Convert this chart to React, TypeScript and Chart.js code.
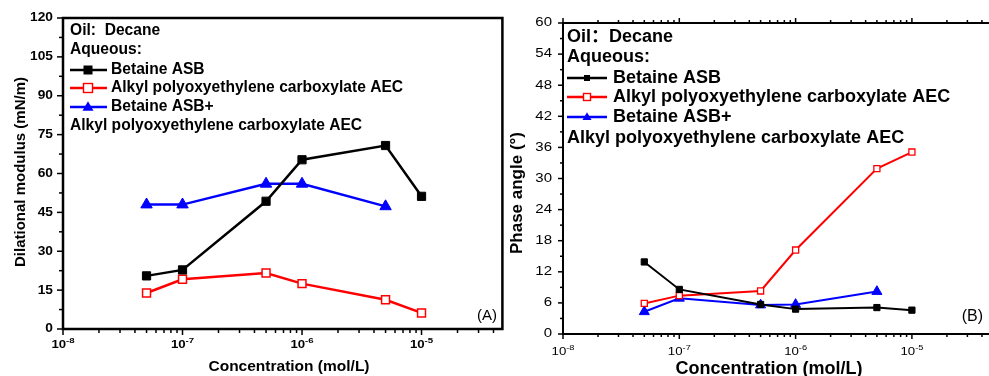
import React, { useEffect, useRef } from 'react';
import { Chart, registerables } from 'chart.js';

Chart.register(...registerables);

// ---------- data ----------
const concentration = [5e-8, 1e-7, 5e-7, 1e-6, 5e-6, 1e-5];
const concentrationMix = [5e-8, 1e-7, 5e-7, 1e-6, 5e-6];

const modulusASB = [20.5, 22.8, 49.3, 65.3, 70.8, 51.2];
const modulusAEC = [13.9, 19.2, 21.6, 17.5, 11.3, 6.2];
const modulusMix = [48.0, 48.0, 56.0, 56.0, 47.3];

const phaseASB = [13.9, 8.6, 5.7, 4.8, 5.1, 4.6];
const phaseAEC = [5.9, 7.4, 8.3, 16.2, 31.9, 35.1];
const phaseMix = [4.3, 6.9, 5.6, 5.7, 8.2];

const modulusTicks = [0, 15, 30, 45, 60, 75, 90, 105, 120];
const phaseTicks = [0, 6, 12, 18, 24, 30, 36, 42, 48, 54, 60];
const decadeExponents = [-8, -7, -6, -5];

const seriesNames = ['Betaine ASB', 'Alkyl polyoxyethylene carboxylate AEC', 'Betaine ASB+'];
const mixSecondLine = 'Alkyl polyoxyethylene carboxylate AEC';
const seriesColors = ['#000000', '#ff0000', '#0000ff'];

const FONT = '"Liberation Sans", Arial, "Noto Sans CJK SC", sans-serif';

type Pad = { left: number; right: number; top: number; bottom: number };

interface PanelCfg {
  canvasLeft: number;
  canvasWidth: number;
  pad: Pad;
  xMin: number;
  xMax: number;
  yMax: number;
  yTicks: number[];
  ys: number[][];
  lineWidth: number;
  axisWidth: number;
  pointR: number[];
  pointBW: number[];
  rightBorder: boolean;
  topTicks: boolean;
  majorLen: number;
  minorLen: number;
  yTickFont: string;
  yTickSx: number;
  yTickRight: number;
  xTickFont: string;
  xExpFont: string;
  xTickY: number;
  xExpDy: number;
  xTickSx: number;
  yTitle: string;
  yTitleFont: string;
  yTitleX: number;
  yTitleY: number;
  xTitle: string;
  xTitleFont: string;
  xTitleX: number;
  xTitleY: number;
  legendFont: string;
  legendX: number;
  legendSampleEnd: number;
  legendMarkerX: number;
  legendTextX: number;
  legendRows: number[];
  legendMarker: number[];
  legendLineWidth: number;
  oilText: string;
  panelLabel: string;
  panelLabelFont: string;
  panelLabelRight: number;
  panelLabelY: number;
}

function drawText(
  ctx: CanvasRenderingContext2D,
  s: string,
  x: number,
  y: number,
  font: string,
  align: 'left' | 'right' | 'center',
  sx = 1
) {
  ctx.save();
  ctx.font = font;
  ctx.fillStyle = '#000';
  ctx.textBaseline = 'middle';
  ctx.textAlign = 'left';
  const w = ctx.measureText(s).width * sx;
  const x0 = align === 'left' ? x : align === 'right' ? x - w : x - w / 2;
  ctx.translate(x0, y);
  ctx.scale(sx, 1);
  ctx.fillText(s, 0, 0);
  ctx.restore();
  return w;
}

function drawMarker(ctx: CanvasRenderingContext2D, kind: number, x: number, y: number, size: number) {
  ctx.save();
  if (kind === 0) {
    ctx.fillStyle = '#000';
    ctx.fillRect(x - size / 2, y - size / 2, size, size);
  } else if (kind === 1) {
    ctx.fillStyle = '#fff';
    ctx.strokeStyle = '#ff0000';
    ctx.lineWidth = 1.4;
    ctx.fillRect(x - size / 2, y - size / 2, size, size);
    ctx.strokeRect(x - size / 2, y - size / 2, size, size);
  } else {
    ctx.fillStyle = '#0000ff';
    const h = size * 0.866;
    ctx.beginPath();
    ctx.moveTo(x, y - h * 0.6);
    ctx.lineTo(x + size / 2, y + h * 0.4);
    ctx.lineTo(x - size / 2, y + h * 0.4);
    ctx.closePath();
    ctx.fill();
  }
  ctx.restore();
}

function drawPanel(chart: any, p: PanelCfg) {
  const ctx: CanvasRenderingContext2D = chart.ctx;
  const { left, right, top, bottom } = chart.chartArea;
  const xs = chart.scales.x;
  const ys = chart.scales.y;
  ctx.save();
  ctx.strokeStyle = '#000';
  ctx.lineWidth = p.axisWidth;
  ctx.lineCap = 'square';
  // frame
  ctx.beginPath();
  ctx.moveTo(left, top);
  ctx.lineTo(left, bottom);
  ctx.lineTo(right, bottom);
  if (p.rightBorder) ctx.lineTo(right, top);
  ctx.moveTo(left, top);
  ctx.lineTo(right, top);
  ctx.stroke();

  // y ticks
  ctx.lineWidth = 1.5;
  ctx.lineCap = 'butt';
  const step = p.yTicks[1] - p.yTicks[0];
  p.yTicks.forEach((v) => {
    const py = ys.getPixelForValue(v);
    ctx.beginPath();
    ctx.moveTo(left, py);
    ctx.lineTo(left - p.majorLen, py);
    ctx.stroke();
    if (v + step / 2 <= p.yMax) {
      const pm = ys.getPixelForValue(v + step / 2);
      ctx.beginPath();
      ctx.moveTo(left, pm);
      ctx.lineTo(left - p.minorLen, pm);
      ctx.stroke();
    }
    drawText(ctx, String(v), p.yTickRight, py, p.yTickFont, 'right', p.yTickSx);
  });

  // x ticks (log)
  for (let d = -8; d <= -4; d++) {
    for (let m = 1; m <= 9; m++) {
      const v = m * Math.pow(10, d);
      if (v < p.xMin * 0.999 || v > p.xMax * 1.001) continue;
      const px = xs.getPixelForValue(v);
      const len = m === 1 ? p.majorLen : p.minorLen;
      ctx.beginPath();
      ctx.moveTo(px, bottom);
      ctx.lineTo(px, bottom + len);
      ctx.stroke();
      if (p.topTicks) {
        ctx.beginPath();
        ctx.moveTo(px, top);
        ctx.lineTo(px, top - len);
        ctx.stroke();
      }
    }
  }
  decadeExponents.forEach((e) => {
    const px = xs.getPixelForValue(Math.pow(10, e));
    ctx.save();
    ctx.font = p.xTickFont;
    const wb = ctx.measureText('10').width * p.xTickSx;
    ctx.font = p.xExpFont;
    const we = ctx.measureText(String(e)).width * p.xTickSx;
    ctx.restore();
    const x0 = px - (wb + we) / 2;
    drawText(ctx, '10', x0, p.xTickY, p.xTickFont, 'left', p.xTickSx);
    drawText(ctx, String(e), x0 + wb, p.xTickY + p.xExpDy, p.xExpFont, 'left', p.xTickSx);
  });

  // titles
  ctx.save();
  ctx.translate(p.yTitleX, p.yTitleY);
  ctx.rotate(-Math.PI / 2);
  drawText(ctx, p.yTitle, 0, 0, p.yTitleFont, 'center');
  ctx.restore();
  drawText(ctx, p.xTitle, p.xTitleX, p.xTitleY, p.xTitleFont, 'center');

  // legend block
  const r = p.legendRows;
  drawText(ctx, p.oilText, p.legendX, r[0], p.legendFont, 'left');
  drawText(ctx, 'Aqueous:', p.legendX, r[1], p.legendFont, 'left');
  for (let i = 0; i < 3; i++) {
    const y = r[2 + i];
    ctx.strokeStyle = seriesColors[i];
    ctx.lineWidth = p.legendLineWidth;
    ctx.beginPath();
    ctx.moveTo(p.legendX, y);
    ctx.lineTo(p.legendSampleEnd, y);
    ctx.stroke();
    drawMarker(ctx, i, p.legendMarkerX, y, p.legendMarker[i]);
    drawText(ctx, seriesNames[i], p.legendTextX, y, p.legendFont, 'left');
  }
  drawText(ctx, mixSecondLine, p.legendX, r[5], p.legendFont, 'left');

  drawText(ctx, p.panelLabel, p.panelLabelRight, p.panelLabelY, p.panelLabelFont, 'right');
  ctx.restore();
}

function PanelChart({ cfg }: { cfg: PanelCfg }) {
  const ref = useRef<HTMLCanvasElement | null>(null);
  useEffect(() => {
    if (!ref.current) return;
    const xsets = [concentration, concentration, concentrationMix];
    const styles = ['rect', 'rect', 'triangle'];
    const fills = ['#000000', '#ffffff', '#0000ff'];
    const datasets = [0, 1, 2].map((i) => ({
      label: seriesNames[i],
      data: xsets[i].map((x, k) => ({ x, y: cfg.ys[i][k] })),
      borderColor: seriesColors[i],
      borderWidth: cfg.lineWidth,
      pointStyle: styles[i],
      pointRadius: cfg.pointR[i],
      pointBackgroundColor: fills[i],
      pointBorderColor: seriesColors[i],
      pointBorderWidth: cfg.pointBW[i],
      fill: false,
      tension: 0,
    }));
    const chart = new Chart(ref.current, {
      type: 'line',
      data: { datasets },
      options: {
        responsive: false,
        animation: false,
        events: [],
        layout: { padding: cfg.pad },
        plugins: { legend: { display: false }, tooltip: { enabled: false } },
        scales: {
          x: { type: 'logarithmic', min: cfg.xMin, max: cfg.xMax, display: false },
          y: { type: 'linear', min: 0, max: cfg.yMax, display: false },
        },
      },
      plugins: [
        {
          id: 'panelAxes',
          afterDraw: (c: any) => drawPanel(c, cfg),
        },
      ],
    } as any);
    return () => chart.destroy();
  }, [cfg]);
  return (
    <canvas
      ref={ref}
      width={cfg.canvasWidth}
      height={376}
      style={{ position: 'absolute', left: cfg.canvasLeft, top: 0, width: cfg.canvasWidth, height: 376 }}
    />
  );
}

const panelA: PanelCfg = {
  canvasLeft: 0,
  canvasWidth: 510,
  pad: { left: 63, right: 7, top: 18, bottom: 47 },
  xMin: 1e-8,
  xMax: 4.75e-5,
  yMax: 120,
  yTicks: modulusTicks,
  ys: [modulusASB, modulusAEC, modulusMix],
  lineWidth: 2.5,
  axisWidth: 2.5,
  pointR: [5.8, 5.6, 6.6],
  pointBW: [1, 1.5, 1],
  rightBorder: true,
  topTicks: false,
  majorLen: 6,
  minorLen: 4,
  yTickFont: `bold 12.5px ${FONT}`,
  yTickSx: 1.1,
  yTickRight: 53,
  xTickFont: `bold 11px ${FONT}`,
  xExpFont: `bold 8px ${FONT}`,
  xTickY: 345,
  xExpDy: -4,
  xTickSx: 1.2,
  yTitle: 'Dilational modulus (mN/m)',
  yTitleFont: `bold 15px ${FONT}`,
  yTitleX: 21,
  yTitleY: 172,
  xTitle: 'Concentration (mol/L)',
  xTitleFont: `bold 15.5px ${FONT}`,
  xTitleX: 289,
  xTitleY: 367,
  legendFont: `bold 15.6px ${FONT}`,
  legendX: 70,
  legendSampleEnd: 107,
  legendMarkerX: 88,
  legendTextX: 111,
  legendRows: [31, 50, 70, 88, 107, 126],
  legendMarker: [9, 9, 11],
  legendLineWidth: 2.5,
  oilText: 'Oil:  Decane',
  panelLabel: '(A)',
  panelLabelFont: `15px ${FONT}`,
  panelLabelRight: 497,
  panelLabelY: 316,
};

const panelB: PanelCfg = {
  canvasLeft: 500,
  canvasWidth: 500,
  pad: { left: 63, right: 5.4, top: 23, bottom: 42 },
  xMin: 1e-8,
  xMax: 5e-5,
  yMax: 60,
  yTicks: phaseTicks,
  ys: [phaseASB, phaseAEC, phaseMix],
  lineWidth: 2,
  axisWidth: 2,
  pointR: [4.4, 4.3, 5.8],
  pointBW: [1, 1.3, 1],
  rightBorder: false,
  topTicks: true,
  majorLen: 5,
  minorLen: 3,
  yTickFont: `12px ${FONT}`,
  yTickSx: 1.25,
  yTickRight: 52,
  xTickFont: `11.5px ${FONT}`,
  xExpFont: `8px ${FONT}`,
  xTickY: 352,
  xExpDy: -4,
  xTickSx: 1.15,
  yTitle: 'Phase angle (°)',
  yTitleFont: `bold 17px ${FONT}`,
  yTitleX: 17,
  yTitleY: 193,
  xTitle: 'Concentration (mol/L)',
  xTitleFont: `bold 18px ${FONT}`,
  xTitleX: 269,
  xTitleY: 369,
  legendFont: `bold 18px ${FONT}`,
  legendX: 67,
  legendSampleEnd: 107,
  legendMarkerX: 87,
  legendTextX: 113,
  legendRows: [37, 57, 78, 97, 117, 138],
  legendMarker: [6, 7, 9],
  legendLineWidth: 2.3,
  oilText: 'Oil：Decane',
  panelLabel: '(B)',
  panelLabelFont: `16px ${FONT}`,
  panelLabelRight: 483,
  panelLabelY: 317,
};

export default function App() {
  return (
    <div
      style={{
        position: 'absolute',
        left: 0,
        top: 0,
        width: 989,
        height: 376,
        overflow: 'hidden',
        background: '#fff',
      }}
    >
      <PanelChart cfg={panelA} />
      <PanelChart cfg={panelB} />
    </div>
  );
}
